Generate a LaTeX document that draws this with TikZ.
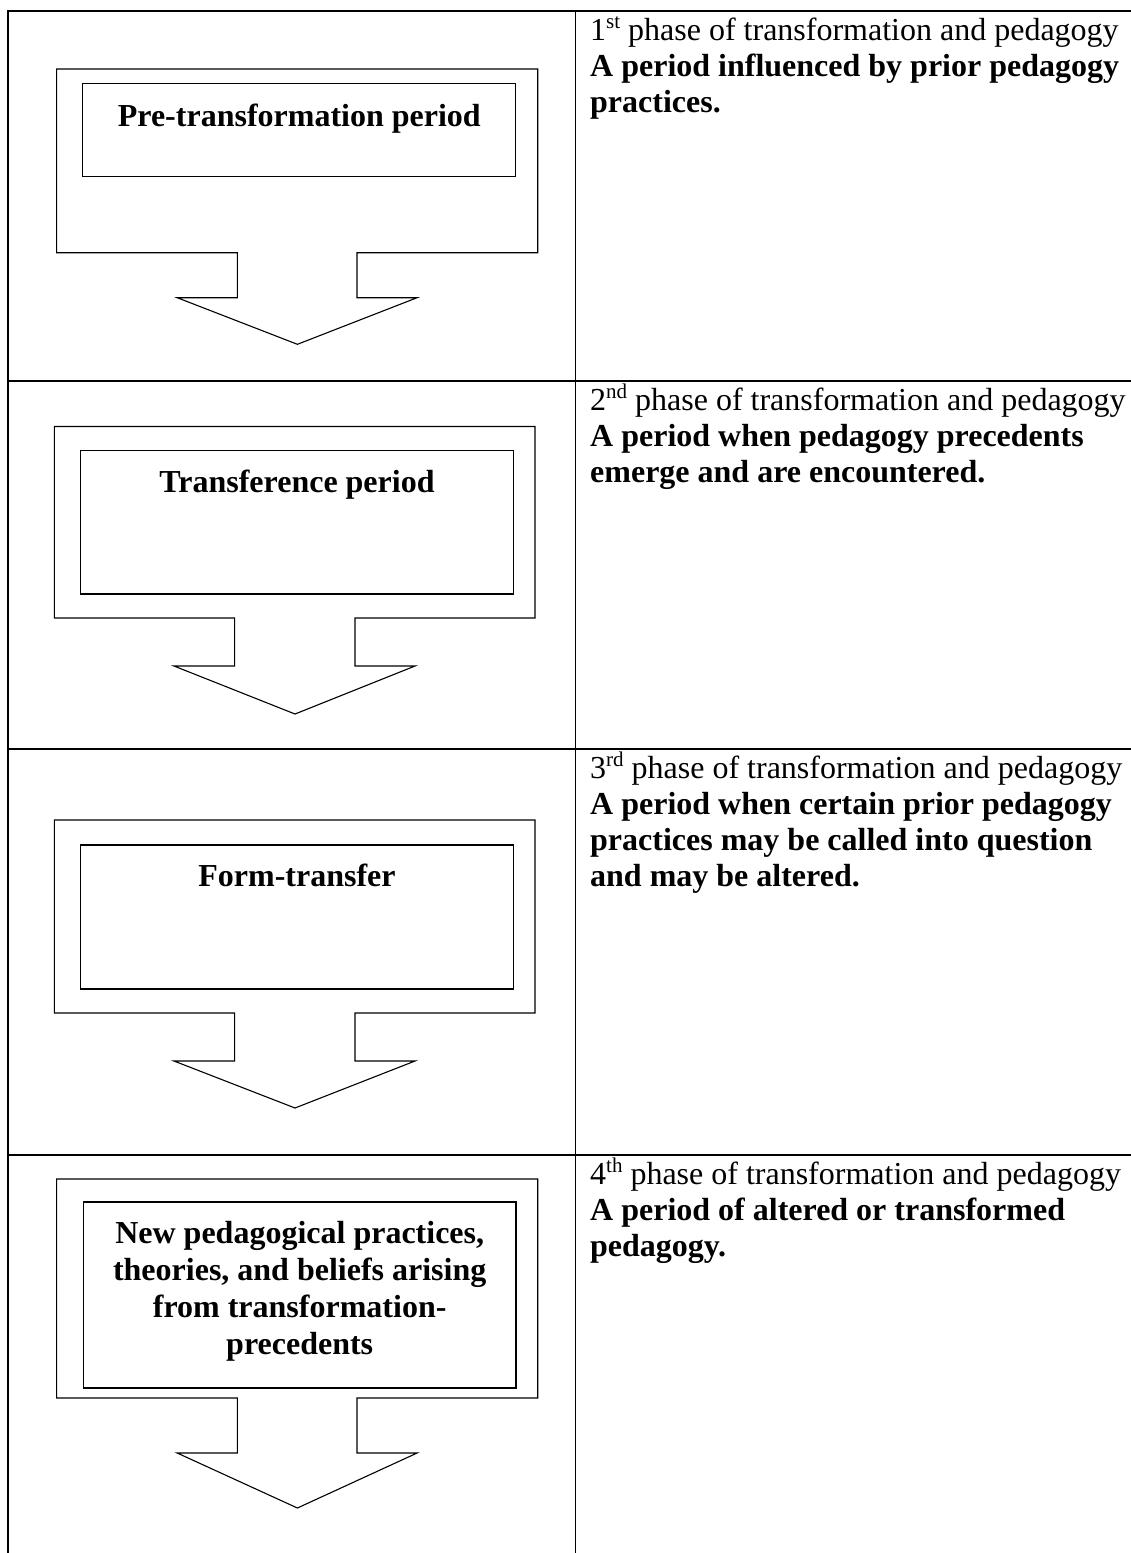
\documentclass[tikz,border=0pt]{standalone}
\usepackage{fontspec}
\setmainfont{Liberation Serif}
\newcommand\ordsup[1]{\raisebox{0.36em}{\fontsize{21}{21}\selectfont #1}}
\tikzset{
  grid line/.style={line width=1.8pt},
  shape line/.style={line width=1.1pt, line join=miter},
  lefttxt/.style={anchor=base, inner sep=0pt, font=\fontsize{32}{37}\selectfont\bfseries},
  righttxt/.style={anchor=base west, inner sep=0pt, font=\fontsize{32}{37}\selectfont},
  rightbold/.style={righttxt, font=\fontsize{32}{37}\selectfont\bfseries}
}
\begin{document}
\begin{tikzpicture}[x=1pt,y=-1pt]
\useasboundingbox (0,0) rectangle (1131,1553);
\fill[white] (0,0) rectangle (1131,1553);

% table grid
\draw[grid line] (8,11) -- (8,1553);
\draw[grid line] (575.5,11) -- (575.5,1553);
\foreach \yy in {11,381,749,1155} \draw[grid line] (7.1,\yy) -- (1131,\yy);

% row 1 block arrow
\draw[shape line] (56.6,69) -- (537.7,69) -- (537.7,252.7) -- (357,252.7) -- (357,297.7) -- (417.1,297.7)
  -- (297.4,344.3) -- (177.2,297.7) -- (237.3,297.7) -- (237.3,252.7) -- (56.6,252.7) -- cycle;
\draw[shape line] (82.7,83.7) rectangle (515.9,176.7);
\node[lefttxt] (t1) at (299.3,126) {Pre-transformation period};

% row 2 block arrow
\draw[shape line] (54.3,426.5) -- (535,426.5) -- (535,618) -- (355,618) -- (355,666) -- (415,666)
  -- (295,714) -- (174,666) -- (234.6,666) -- (234.6,618) -- (54.3,618) -- cycle;
\draw[shape line] (80.4,450.5) rectangle (513.6,594);
\node[lefttxt] (t2) at (297,492) {Transference period};

% row 3 block arrow
\draw[shape line] (54.3,820) -- (535,820) -- (535,1013) -- (355,1013) -- (355,1061) -- (415,1061)
  -- (295,1108) -- (174,1061) -- (234.6,1061) -- (234.6,1013) -- (54.3,1013) -- cycle;
\draw[shape line] (80.4,845) rectangle (513.6,989);
\node[lefttxt] (t3) at (297,886) {Form-transfer};

% row 4 block arrow
\draw[shape line] (56.6,1179) -- (537.7,1179) -- (537.7,1398) -- (357,1398) -- (357,1453) -- (417.1,1453)
  -- (297.4,1508) -- (177.2,1453) -- (237.3,1453) -- (237.3,1398) -- (56.6,1398) -- cycle;
\draw[shape line] (83.4,1202) rectangle (516,1388);
\node[lefttxt] (t4a) at (299.7,1243) {New pedagogical practices,};
\node[lefttxt] (t4b) at (299.7,1280) {theories, and beliefs arising};
\node[lefttxt] (t4c) at (299.7,1317) {from transformation-};
\node[lefttxt] (t4d) at (299.7,1354) {precedents};

% right column texts
\node[righttxt] (r1a) at (590,40) {1\ordsup{st} phase of transformation and pedagogy};
\node[rightbold] (r1b) at (590,76) {A period influenced by prior pedagogy};
\node[rightbold] (r1c) at (590,112) {practices.};

\node[righttxt] (r2a) at (590,410) {2\ordsup{nd} phase of transformation and pedagogy};
\node[rightbold] (r2b) at (590,446) {A period when pedagogy precedents};
\node[rightbold] (r2c) at (590,482) {emerge and are encountered.};

\node[righttxt] (r3a) at (590,778) {3\ordsup{rd} phase of transformation and pedagogy};
\node[rightbold] (r3b) at (590,814) {A period when certain prior pedagogy};
\node[rightbold] (r3c) at (590,850) {practices may be called into question};
\node[rightbold] (r3d) at (590,886) {and may be altered.};

\node[righttxt] (r4a) at (590,1184) {4\ordsup{th} phase of transformation and pedagogy};
\node[rightbold] (r4b) at (590,1220) {A period of altered or transformed};
\node[rightbold] (r4c) at (590,1256) {pedagogy.};
\end{tikzpicture}
\end{document}
